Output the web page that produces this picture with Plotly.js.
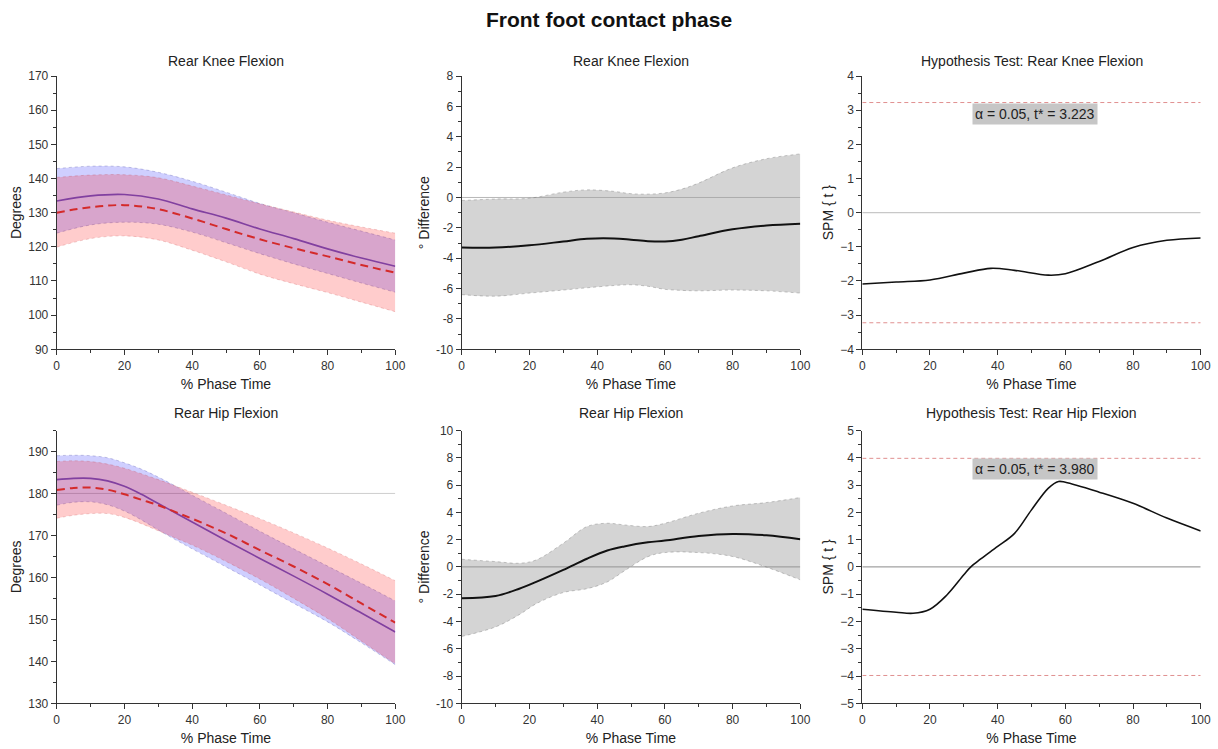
<!DOCTYPE html>
<html>
<head>
<meta charset="utf-8">
<script src="https://cdn.plot.ly/plotly-3.0.1.min.js"></script>
<style>html,body{margin:0;padding:0;background:#fff;}#chart{width:1218px;height:749px;}</style>
</head>
<body>
<div id="chart"></div>
<script>
// ---------- DATA ----------
const phase = [0,10,20,30,40,50,60,70,80,90,100];
const phase5 = [0,5,10,15,20,25,30,35,40,50,60,70,80,90,100];

// Rear knee flexion (degrees)
const kneeBlueMean  = [133.4,134.9,135.3,134.0,131.1,128.4,125.2,122.4,119.4,116.7,114.3];
const kneeBlueUpper = [142.9,143.6,143.4,141.8,139.2,136.0,132.7,130.0,127.2,124.6,122.0];
const kneeBlueLower = [124.0,126.4,127.2,126.6,124.3,121.2,118.0,115.0,112.2,109.4,106.7];
const kneeRedMean   = [130.0,131.6,132.2,131.0,128.3,125.2,122.2,119.6,117.2,114.7,112.4];
const kneeRedUpper  = [140.3,141.0,141.1,140.2,137.8,135.2,132.6,130.2,127.8,125.8,124.0];
const kneeRedLower  = [119.9,122.4,123.2,122.0,119.0,115.6,112.0,109.2,106.6,103.8,101.0];

// Rear hip flexion (degrees) sampled at phase5
const hipBlueMean  = [183.3,183.6,183.6,183.0,181.7,179.8,177.6,175.4,173.2,168.8,164.5,160.3,156.0,151.5,147.0];
const hipBlueUpper = [189.0,189.1,189.0,188.5,187.3,185.8,183.9,181.8,179.6,175.3,171.0,166.8,162.7,158.6,154.4];
const hipBlueLower = [177.2,177.9,178.0,177.3,175.8,173.7,171.3,169.0,166.8,162.5,158.2,153.8,149.4,144.4,139.2];
const hipRedMean   = [180.8,181.3,181.4,180.9,179.8,178.5,177.2,175.6,174.0,170.5,166.5,162.6,158.4,153.8,149.2];
const hipRedUpper  = [187.6,187.8,187.6,187.0,186.0,184.7,183.3,181.8,180.3,177.2,174.0,170.6,167.0,163.2,159.2];
const hipRedLower  = [174.1,174.8,175.2,175.2,174.3,172.8,171.1,169.4,167.7,163.8,159.6,155.0,150.2,144.8,139.4];
const hipReference = 180;

// Difference: knee
const kdX     = [0,10,20,30,37,45,50,55,60,65,70,80,90,100];
const kdMean  = [-3.3,-3.3,-3.15,-2.9,-2.72,-2.7,-2.78,-2.88,-2.9,-2.78,-2.55,-2.1,-1.85,-1.73];
const kdUpper = [-0.2,-0.1,-0.05,0.35,0.5,0.4,0.25,0.22,0.3,0.55,0.95,1.95,2.55,2.87];
const kdLower = [-6.4,-6.5,-6.3,-6.1,-5.95,-5.8,-5.75,-5.85,-6.05,-6.12,-6.15,-6.1,-6.15,-6.3];

// Difference: hip
const hdX     = [0,10,17,22,30,37,43,48,55,60,70,80,90,100];
const hdMean  = [-2.3,-2.13,-1.6,-1.1,-0.22,0.6,1.2,1.5,1.8,1.93,2.27,2.42,2.32,2.03];
const hdUpper = [0.56,0.39,0.27,0.51,1.74,2.96,3.2,3.08,2.96,3.2,3.94,4.47,4.72,5.09];
const hdLower = [-5.1,-4.4,-3.5,-2.7,-1.88,-1.6,-1.1,-0.3,0.75,1.05,1.05,0.76,-0.02,-0.95];

// SPM{t}
const spmKneeX = [0,10,20,30,38,45,55,60,70,80,90,100];
const spmKnee  = [-2.09,-2.03,-1.97,-1.77,-1.63,-1.69,-1.83,-1.79,-1.43,-1.02,-0.81,-0.74];
const spmHipX  = [0,10,15,20,25,30,32,35,40,45,50,55,58,60,70,80,90,100];
const spmHip   = [-1.55,-1.66,-1.7,-1.55,-1.03,-0.29,-0.01,0.29,0.75,1.23,2.09,2.89,3.13,3.1,2.74,2.33,1.79,1.32];
const tStar = [3.223, 3.980];
const alpha = 0.05;

const xRange = [0,100];
const xTicks = [0,20,40,60,80,100];
const diffKneeTicks = [-10,-8,-6,-4,-2,0,2,4,6,8];
const diffKneeText  = ['-10','-8','-6','-4','-2','0','2','4','6','8'];
const diffHipTicks  = [-10,-8,-6,-4,-2,0,2,4,6,8,10];
const diffHipText   = ['-10','-8','-6','-4','-2','0','2','4','6','8','10'];

// ---------- STYLE ----------
const F = 'Liberation Sans, Arial, sans-serif';
const blueFill = 'rgba(0,0,255,0.19)';
const redFill = 'rgba(255,0,0,0.2)';
const blueEdge = 'rgba(40,40,140,0.35)';
const redEdge = 'rgba(190,40,40,0.3)';
const blueLine = '#6250c8';
const redLine = '#d42a2a';

const traces = [];
function band(x, up, lo, fill, edge, xa, ya){
  traces.push({x:x, y:up, xaxis:xa, yaxis:ya, mode:'lines', line:{color:edge, width:0.7, dash:'dot', shape:'spline', smoothing:1}, hoverinfo:'skip'});
  traces.push({x:x, y:lo, xaxis:xa, yaxis:ya, mode:'lines', fill:'tonexty', fillcolor:fill, line:{color:edge, width:0.7, dash:'dot', shape:'spline', smoothing:1}, hoverinfo:'skip'});
}
function line(x, y, color, width, dash, xa, ya){
  traces.push({x:x, y:y, xaxis:xa, yaxis:ya, mode:'lines', line:{color:color, width:width, dash:dash, shape:'spline', smoothing:1}});
}
function hline(v, color, width, dash, xa, ya){
  traces.push({x:xRange, y:[v,v], xaxis:xa, yaxis:ya, mode:'lines', line:{color:color, width:width, dash:dash}, hoverinfo:'skip'});
}

// Panel 1
band(phase, kneeBlueUpper, kneeBlueLower, blueFill, blueEdge, 'x', 'y');
line(phase, kneeBlueMean, blueLine, 1.6, 'solid', 'x', 'y');
band(phase, kneeRedUpper, kneeRedLower, redFill, redEdge, 'x', 'y');
line(phase, kneeRedMean, redLine, 2, '8px,5px', 'x', 'y');
// Panel 2
hline(0, '#b8b8b8', 1, 'solid', 'x2', 'y2');
band(kdX, kdUpper, kdLower, 'rgba(160,160,160,0.45)', 'rgba(90,90,90,0.45)', 'x2', 'y2');
line(kdX, kdMean, '#111', 2, 'solid', 'x2', 'y2');
// Panel 3
hline(0, '#c8c8c8', 1.2, 'solid', 'x3', 'y3');
hline(tStar[0], '#e09090', 1, '4px,3px', 'x3', 'y3');
hline(-tStar[0], '#e09090', 1, '4px,3px', 'x3', 'y3');
line(spmKneeX, spmKnee, '#111', 1.6, 'solid', 'x3', 'y3');
// Panel 4
hline(hipReference, '#cfcfcf', 1, 'solid', 'x4', 'y4');
band(phase5, hipBlueUpper, hipBlueLower, blueFill, blueEdge, 'x4', 'y4');
line(phase5, hipBlueMean, blueLine, 1.6, 'solid', 'x4', 'y4');
band(phase5, hipRedUpper, hipRedLower, redFill, redEdge, 'x4', 'y4');
line(phase5, hipRedMean, redLine, 2, '8px,5px', 'x4', 'y4');
// Panel 5
hline(0, '#8a8a8a', 1, 'solid', 'x5', 'y5');
band(hdX, hdUpper, hdLower, 'rgba(160,160,160,0.45)', 'rgba(90,90,90,0.45)', 'x5', 'y5');
line(hdX, hdMean, '#111', 2, 'solid', 'x5', 'y5');
// Panel 6
hline(0, '#8a8a8a', 1, 'solid', 'x6', 'y6');
hline(tStar[1], '#e09090', 1, '4px,3px', 'x6', 'y6');
hline(-tStar[1], '#e09090', 1, '4px,3px', 'x6', 'y6');
line(spmHipX, spmHip, '#111', 1.6, 'solid', 'x6', 'y6');

// ---------- LAYOUT ----------
const W = 1218, H = 749;
const colPx = [[56.7,395.3],[461.7,800.3],[862.3,1200.7]];
const rowPx = [[76,349.3],[430.5,703.3]];
const xd = c => [colPx[c][0]/W, colPx[c][1]/W];
const yd = r => [1-rowPx[r][1]/H, 1-rowPx[r][0]/H];

function xaxis(c, r, anchor){
  return {domain: xd(c), anchor: anchor, range: xRange, tickvals: xTicks, ticks:'outside', ticklen:5, tickwidth:1, tickcolor:'#333',
    minor:{ticks:'outside', ticklen:3, tickcolor:'#333', tickmode:'linear', tick0:0, dtick:10},
    showline:true, linecolor:'#333', linewidth:1, showgrid:false, zeroline:false,
    tickfont:{family:F, size:12, color:'#333'},
    title:{text:'% Phase Time', font:{family:F, size:14, color:'#222'}, standoff:7}};
}
function yaxis(c, r, anchor, range, extra, titleText){
  return Object.assign({domain: yd(r), anchor: anchor, range: range, ticks:'outside', ticklen:5, tickwidth:1, tickcolor:'#333',
    showline:true, linecolor:'#333', linewidth:1, showgrid:false, zeroline:false,
    tickfont:{family:F, size:12, color:'#333'},
    title:{text:titleText, font:{family:F, size:14, color:'#222'}, standoff:3}}, extra);
}
function subTitle(text, c, yPx){
  return {text:text, xref:'paper', yref:'paper', x:(xd(c)[0]+xd(c)[1])/2, xanchor:'center', y:1-yPx/H, yanchor:'middle', showarrow:false, font:{family:F, size:14, color:'#222'}};
}

const layout = {
  width: W, height: H,
  margin:{l:0, r:0, t:0, b:0},
  paper_bgcolor:'#fff', plot_bgcolor:'rgba(0,0,0,0)',
  showlegend:false,
  title:{text:'<b>Front foot contact phase</b>', font:{family:F, size:21, color:'#111'}, x:0.5, xanchor:'center', y:1-20/H, yanchor:'middle', xref:'paper', yref:'container'},
  xaxis:  xaxis(0,0,'y'),
  xaxis2: xaxis(1,0,'y2'),
  xaxis3: xaxis(2,0,'y3'),
  xaxis4: xaxis(0,1,'y4'),
  xaxis5: xaxis(1,1,'y5'),
  xaxis6: xaxis(2,1,'y6'),
  yaxis:  yaxis(0,0,'x',[90,170],{tick0:90, dtick:10, minor:{ticks:'outside', ticklen:3, tickcolor:'#333', tickmode:'linear', tick0:90, dtick:5}}, 'Degrees'),
  yaxis2: yaxis(1,0,'x2',[-10,8],{tickmode:'array', tickvals:diffKneeTicks, ticktext:diffKneeText, minor:{ticks:'outside', ticklen:3, tickcolor:'#333', tickmode:'linear', tick0:0, dtick:1}}, '° Difference'),
  yaxis3: yaxis(2,0,'x3',[-4,4],{tick0:0, dtick:1, minor:{ticks:'outside', ticklen:3, tickcolor:'#333', tickmode:'linear', tick0:0, dtick:0.5}}, 'SPM { t }'),
  yaxis4: yaxis(0,1,'x4',[130,195],{tickmode:'array', tickvals:[130,140,150,160,170,180,190], minor:{ticks:'outside', ticklen:3, tickcolor:'#333', tickmode:'linear', tick0:130, dtick:5}}, 'Degrees'),
  yaxis5: yaxis(1,1,'x5',[-10,10],{tickmode:'array', tickvals:diffHipTicks, ticktext:diffHipText, minor:{ticks:'outside', ticklen:3, tickcolor:'#333', tickmode:'linear', tick0:0, dtick:1}}, '° Difference'),
  yaxis6: yaxis(2,1,'x6',[-5,5],{tick0:0, dtick:1, minor:{ticks:'outside', ticklen:3, tickcolor:'#333', tickmode:'linear', tick0:0, dtick:0.5}}, 'SPM { t }'),
  annotations: [
    subTitle('Rear Knee Flexion', 0, 61),
    subTitle('Rear Knee Flexion', 1, 61),
    subTitle('Hypothesis Test: Rear Knee Flexion', 2, 61),
    subTitle('Rear Hip Flexion', 0, 413),
    subTitle('Rear Hip Flexion', 1, 413),
    subTitle('Hypothesis Test: Rear Hip Flexion', 2, 413),
    {text:'α = ' + alpha.toFixed(2) + ', t* = ' + tStar[0].toFixed(3), xref:'x3', yref:'y3', x:51, y:2.9, showarrow:false, bgcolor:'#c6c6c6', borderpad:2, font:{family:F, size:14, color:'#222'}},
    {text:'α = ' + alpha.toFixed(2) + ', t* = ' + tStar[1].toFixed(3), xref:'x6', yref:'y6', x:51, y:3.58, showarrow:false, bgcolor:'#c6c6c6', borderpad:2, font:{family:F, size:14, color:'#222'}}
  ]
};

Plotly.newPlot('chart', traces, layout, {displayModeBar:false, staticPlot:true});
</script>
</body>
</html>
